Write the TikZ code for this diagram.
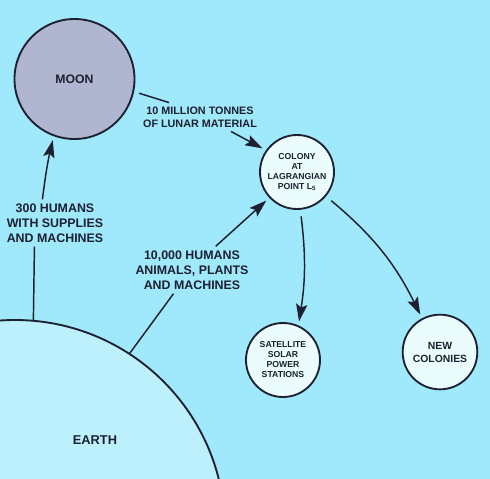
\documentclass[tikz,border=0pt]{standalone}
\usepackage{fontspec}
\setmainfont{Liberation Sans}
\usetikzlibrary{arrows.meta}

\definecolor{skyblue}{HTML}{A0E8FC}
\definecolor{moongrey}{HTML}{B0B6D0}
\definecolor{earthblue}{HTML}{BCF0FC}
\definecolor{pale}{HTML}{EAFCFC}
\definecolor{ink}{HTML}{1C2030}

\newcommand{\sz}[2]{\bfseries\fontsize{#1}{#2}\selectfont}

\begin{document}
\begin{tikzpicture}[x=0.75pt,y=0.75pt,yscale=-1,xscale=1,
	body/.style={circle,draw=ink,line width=1.4pt,inner sep=0pt,align=center,text=ink},
	caption/.style={align=center,text=ink,inner sep=3pt,font=\sz{9.3}{11.25}},
	flow/.style={draw=ink,line width=1.1pt,shorten >=3pt,-{Stealth[length=13pt,width=8.5pt,inset=2.5pt]}},
	lead/.style={draw=ink,line width=1.1pt}]
	
	\useasboundingbox (0,0) rectangle (490,479);
	\fill[skyblue] (0,0) rectangle (490,479);
	\clip (0,0) rectangle (490,479);
	
	% bodies
	\node[body,fill=moongrey,minimum size=90pt,font=\sz{9.2}{11}] (moon) at (74.5,79) {MOON};
	\node[body,fill=earthblue,minimum size=315pt] (earth) at (15,530) {};
	\node[caption,font=\sz{9.6}{11}] (earthname) at (95,440) {EARTH};
	\node[body,fill=pale,minimum size=55.5pt,font=\sz{6.5}{7.5}] (colony) at (297,172) {COLONY\\AT\\LAGRANGIAN\\POINT L\textsubscript{5}};
	\node[body,fill=pale,minimum size=55.5pt,font=\sz{6.5}{7.5}] (solar) at (283,360) {SATELLITE\\SOLAR\\POWER\\STATIONS};
	\node[body,fill=pale,minimum size=56pt,font=\sz{7.8}{9.75}] (newcol) at (440,352) {NEW\\COLONIES};
	
	% labels
	\node[caption,font=\sz{8.1}{9.5}] (cargo) at (200,117) {10 MILLION TONNES\\OF LUNAR MATERIAL};
	\node[caption] (crew) at (55,223) {300 HUMANS\\WITH SUPPLIES\\AND MACHINES};
	\node[caption] (settlers) at (192,270) {10,000 HUMANS\\ANIMALS, PLANTS\\AND MACHINES};
	
	% connectors
	\draw[lead] (earth.85) -- (crew.-131);
	\draw[flow] (crew.118) to[bend right=3] (moon.250);
	\draw[lead,shorten <=4pt] (moon.-12) -- (cargo.155);
	\draw[flow] (cargo.-25) -- (colony.145);
	\draw[lead] (earth.57) -- (settlers.-128);
	\draw[flow] (settlers.45) -- (colony.-137);
	\draw[flow,shorten <=5pt] (colony.-85) to[bend right=8] (solar.66);
	\draw[flow,shorten <=5pt] (colony.-40) to[bend right=12] (newcol.118);
	
\end{tikzpicture}
\end{document}
